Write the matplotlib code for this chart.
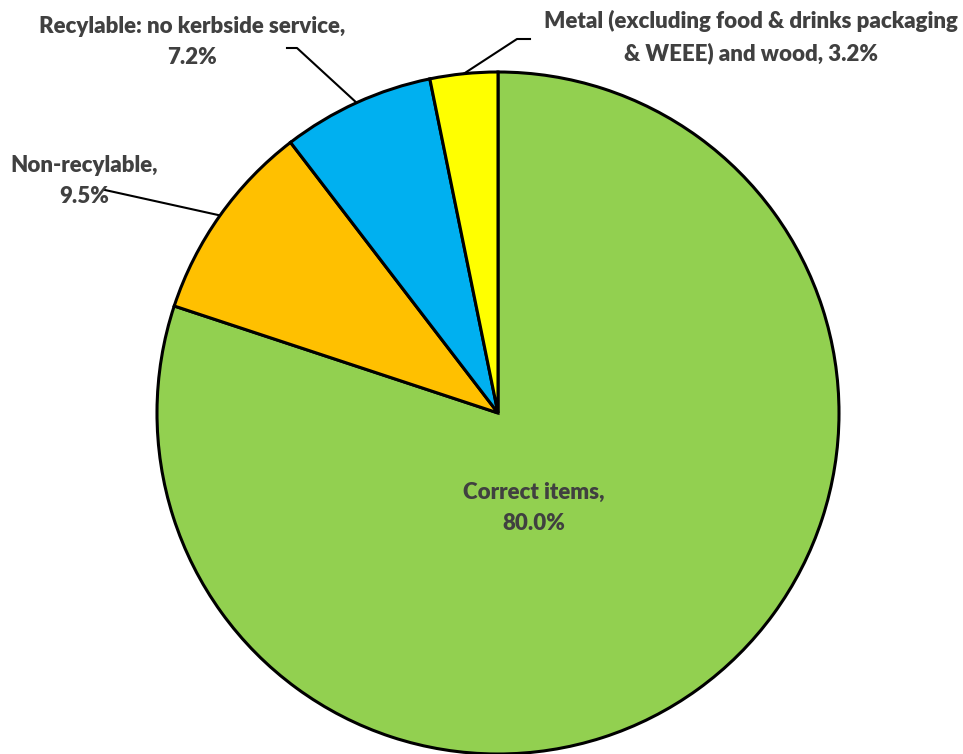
import numpy as np
import matplotlib
matplotlib.use("Agg")
import matplotlib.pyplot as plt

labels = ["Correct items", "Non-recylable", "Recylable: no kerbside service",
          "Metal (excluding food & drinks packaging\n& WEEE) and wood"]
values = [80.0, 9.5, 7.2, 3.2]
colors = ["#92D050", "#FFC000", "#00B0F0", "#FFFF00"]

W, H = 963, 754
fig = plt.figure(figsize=(W / 100, H / 100), dpi=100)
ax = fig.add_axes([0, 0, 1, 1])

cx, cy, r = 498, H - 413, 341
wedges, _ = ax.pie(values, colors=colors, startangle=90, counterclock=False,
                   center=(cx, cy), radius=r, frame=True,
                   wedgeprops=dict(edgecolor="black", linewidth=2.2))
ax.set_xlim(0, W)
ax.set_ylim(0, H)
ax.set_aspect("equal")
ax.axis("off")

font = dict(family="Lato", fontweight="heavy", fontsize=16, color="#404040",
            ha="center", va="center", linespacing=1.55)

# label text positions and leader elbows (pixel coords, y from top)
text_pos = [(534, 508), (84, 181), (192, 42), (751, 37)]
elbows = [None, [(105, 190)], [(297, 48), (287, 48)], [(517, 39), (530, 39)]]

for i, w in enumerate(wedges):
    mid = np.deg2rad((w.theta1 + w.theta2) / 2)
    ex, ey = cx + r * np.cos(mid), cy + r * np.sin(mid)
    tx, ty = text_pos[i]
    if i == 3:
        txt = f"{labels[i]}, {values[i]:.1f}%"
    else:
        txt = f"{labels[i]},\n{values[i]:.1f}%"
    ax.text(tx, H - ty, txt, **font, zorder=3)
    if elbows[i]:
        xs = [ex] + [p[0] for p in elbows[i]]
        ys = [ey] + [H - p[1] for p in elbows[i]]
        ax.plot(xs, ys, color="black", lw=1.5, zorder=2)

fig.savefig("out.png", dpi=100)
